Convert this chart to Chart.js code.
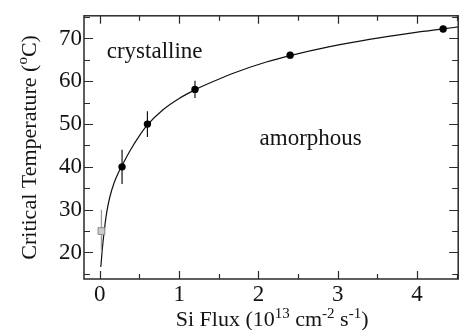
<!DOCTYPE html>
<html>
<head>
<meta charset="utf-8">
<script src="https://cdn.jsdelivr.net/npm/chart.js@4.4.1/dist/chart.umd.min.js"></script>
<style>
  html, body { margin: 0; padding: 0; background: #fff; }
  #wrap { width: 464px; height: 330px; }
</style>
</head>
<body>
<div id="wrap"><canvas id="c"></canvas></div>
<script>
// Si flux in 1e13 cm^-2 s^-1, critical temperature in deg C
const fluxPts = [0.28, 0.6, 1.2, 2.4, 4.33];
const tempPts = [40, 50, 58.1, 66.1, 72.2];
const tempErr = [4, 3, 2, 0.8, 0.5];

// low-flux point, plotted as a grey square
const lowFlux = [0.02];
const lowTemp = [25];
const lowErr = [5];

// boundary curve between the two regions
const curveX = [0.012, 0.03, 0.055, 0.085, 0.125, 0.18, 0.24, 0.28, 0.375, 0.5, 0.6, 0.8, 1.0, 1.2, 1.4, 1.7, 2.1, 2.4, 2.9, 3.4, 3.9, 4.35, 4.52];
const curveY = [16.6, 20.6, 25.0, 29.2, 32.9, 36.3, 38.9, 40.3, 43.6, 47.3, 49.8, 53.4, 56.0, 58.0, 59.7, 62.0, 64.5, 66.0, 68.1, 69.8, 71.2, 72.3, 72.7];

const xMajor = [0, 1, 2, 3, 4];
const xMinor = [0.5, 1.5, 2.5, 3.5, 4.5];
const yMajor = [20, 30, 40, 50, 60, 70];
const yMinor = [15, 25, 35, 45, 55, 65, 75];

const regionNames = ['crystalline', 'amorphous'];

const SERIF = '"Liberation Serif", "Times New Roman", serif';
const INK = '#141414';

function pts(xs, ys) {
  return xs.map((x, i) => ({ x: x, y: ys[i] }));
}

// vertical bars, broken apart with null points
function errBars(xs, ys, es) {
  const out = [];
  xs.forEach((x, i) => {
    out.push({ x: x, y: ys[i] - es[i] }, { x: x, y: ys[i] + es[i] }, { x: x, y: null });
  });
  return out;
}

// text with raised parts, e.g. exponents
function richText(ctx, parts, cx, baseline, size) {
  const small = Math.round(size * 0.68);
  let w = 0;
  parts.forEach(p => {
    ctx.font = (p.sup ? small : size) + 'px ' + SERIF;
    p.w = ctx.measureText(p.t).width;
    w += p.w;
  });
  let x = cx - w / 2;
  ctx.textAlign = 'left';
  ctx.textBaseline = 'alphabetic';
  parts.forEach(p => {
    ctx.font = (p.sup ? small : size) + 'px ' + SERIF;
    ctx.fillText(p.t, x, p.sup ? baseline - size * 0.38 : baseline);
    x += p.w;
  });
}

const framePlugin = {
  id: 'frame',
  afterDraw(chart) {
    const { ctx, chartArea: a, scales: { x, y } } = chart;
    ctx.save();
    ctx.strokeStyle = '#2a2a2a';
    ctx.lineWidth = 1.5;
    ctx.strokeRect(a.left, a.top, a.right - a.left, a.bottom - a.top);

    // inward ticks on all four sides
    ctx.lineWidth = 1.2;
    ctx.beginPath();
    const xt = (vals, len) => vals.forEach(v => {
      const px = Math.round(x.getPixelForValue(v)) + 0.5;
      ctx.moveTo(px, a.bottom); ctx.lineTo(px, a.bottom - len);
      ctx.moveTo(px, a.top); ctx.lineTo(px, a.top + len);
    });
    const yt = (vals, len) => vals.forEach(v => {
      const py = Math.round(y.getPixelForValue(v)) + 0.5;
      ctx.moveTo(a.left, py); ctx.lineTo(a.left + len, py);
      ctx.moveTo(a.right, py); ctx.lineTo(a.right - len, py);
    });
    xt(xMajor, 8); xt(xMinor, 5);
    yt(yMajor, 9); yt(yMinor, 6);
    ctx.stroke();

    ctx.fillStyle = INK;
    // region names
    ctx.font = '23px ' + SERIF;
    ctx.textAlign = 'left';
    ctx.textBaseline = 'alphabetic';
    ctx.fillText(regionNames[0], x.getPixelForValue(0.087), y.getPixelForValue(65.4));
    ctx.fillText(regionNames[1], x.getPixelForValue(2.015), y.getPixelForValue(45.1));

    // axis titles
    richText(ctx, [
      { t: 'Si Flux (10' }, { t: '13', sup: true }, { t: ' cm' }, { t: '-2', sup: true },
      { t: ' s' }, { t: '-1', sup: true }, { t: ')' }
    ], (a.left + a.right) / 2 + 1, 326, 22);

    ctx.translate(35.5, (a.top + a.bottom) / 2);
    ctx.rotate(-Math.PI / 2);
    richText(ctx, [
      { t: 'Critical Temperature (' }, { t: 'o', sup: true }, { t: 'C)' }
    ], 0, 0, 22);
    ctx.restore();
  }
};

new Chart(document.getElementById('c'), {
  type: 'scatter',
  data: {
    datasets: [
      {
        data: pts(fluxPts, tempPts),
        pointStyle: 'circle', pointRadius: 3.7,
        backgroundColor: '#000', borderColor: '#000', borderWidth: 0
      },
      {
        data: pts(lowFlux, lowTemp),
        pointStyle: 'rect', pointRadius: 4.8,
        backgroundColor: '#cdcdcd', borderColor: '#8a8a8a', borderWidth: 1
      },
      {
        data: errBars(fluxPts, tempPts, tempErr),
        showLine: true, spanGaps: false, pointRadius: 0,
        borderColor: '#111', borderWidth: 1.2
      },
      {
        data: errBars(lowFlux, lowTemp, lowErr),
        showLine: true, spanGaps: false, pointRadius: 0,
        borderColor: '#9a9a9a', borderWidth: 1.3
      },
      {
        data: pts(curveX, curveY),
        showLine: true, pointRadius: 0,
        cubicInterpolationMode: 'monotone',
        borderColor: '#111', borderWidth: 1.2
      }
    ]
  },
  options: {
    responsive: true, maintainAspectRatio: false, animation: false,
    layout: { padding: { top: 10, right: 1, left: 0, bottom: 0 } },
    plugins: { legend: { display: false }, tooltip: { enabled: false } },
    scales: {
      x: {
        type: 'linear', min: -0.2, max: 4.52,
        afterBuildTicks: s => { s.ticks = xMajor.map(v => ({ value: v })); },
        afterFit: s => { s.height = 51; },
        ticks: { color: INK, font: { family: SERIF, size: 23 }, padding: 2, maxRotation: 0 },
        grid: { display: false, drawTicks: false },
        border: { display: false }
      },
      y: {
        type: 'linear', min: 13.8, max: 75.3,
        afterBuildTicks: s => { s.ticks = yMajor.map(v => ({ value: v })); },
        afterFit: s => { s.width = 84; },
        ticks: { color: INK, font: { family: SERIF, size: 23 }, padding: 2 },
        grid: { display: false, drawTicks: false },
        border: { display: false }
      }
    }
  },
  plugins: [framePlugin]
});
</script>
</body>
</html>
